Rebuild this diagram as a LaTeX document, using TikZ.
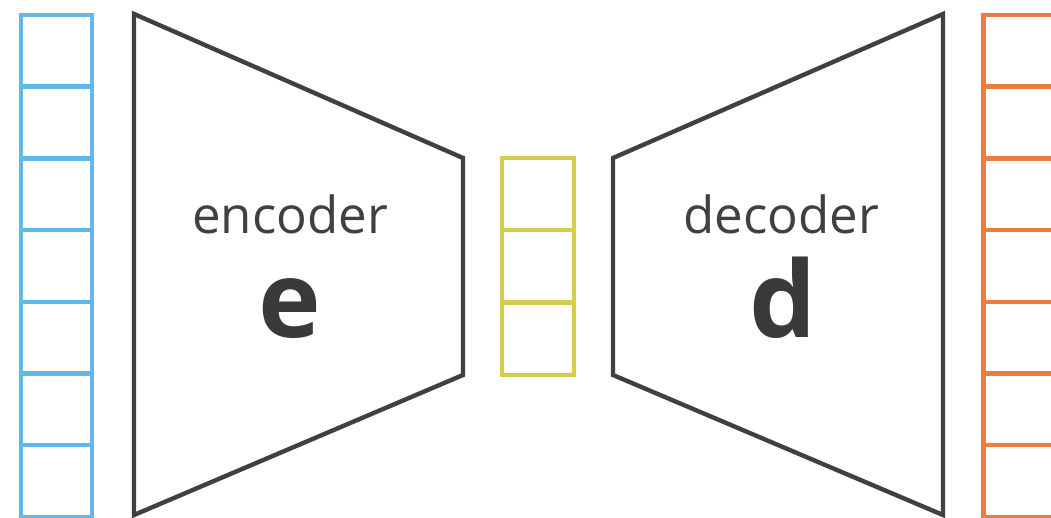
\documentclass[tikz,border=0pt]{standalone}
\usepackage{fontspec}
\setmainfont{Open Sans}
\definecolor{inblue}{HTML}{62B8E6}
\definecolor{codeyellow}{HTML}{D6CD4E}
\definecolor{outorange}{HTML}{EB7E3A}
\definecolor{netgray}{HTML}{404040}
\begin{document}
\begin{tikzpicture}[x=1pt,y=-1pt,
  cellbox/.style={draw=#1,line width=4.4pt,minimum width=71pt,minimum height=71.7pt,inner sep=0pt,outer sep=0pt},
  netshape/.style={draw=netgray,line width=4.4pt,line join=miter},
  netname/.style={text=netgray,font=\fontsize{51}{51}\selectfont,anchor=base,inner sep=0pt},
  netsym/.style={text=netgray!90!black,font=\bfseries\fontsize{106}{106}\selectfont,anchor=base,inner sep=0pt}]
\useasboundingbox (0,0) rectangle (1051,518);
\clip (0,0) rectangle (1051,518);
% input vector
\foreach \i in {0,...,6}
  \node[cellbox=inblue] (in\i) at (56.5,{15+71.7*\i+35.85}) {};
% encoder
\coordinate (e1) at (134,14);
\coordinate (e2) at (463,158);
\coordinate (e3) at (463,375);
\coordinate (e4) at (134,515);
\draw[netshape] (e1) -- (e2) -- (e3) -- (e4) -- cycle;
\node[netname] (enc) at (290,234) {encoder};
\node[netsym] (esym) at (290,337) {e};
% code vector
\foreach \i in {0,...,2}
  \node[cellbox=codeyellow,minimum width=72pt,minimum height=72.3pt] (code\i) at (538,{158+72.3*\i+36.15}) {};
% decoder
\coordinate (d1) at (613,158);
\coordinate (d2) at (943,14);
\coordinate (d3) at (943,515);
\coordinate (d4) at (613,375);
\draw[netshape] (d1) -- (d2) -- (d3) -- (d4) -- cycle;
\node[netname] (dec) at (781,234) {decoder};
\node[netsym] (dsym) at (783,337) {d};
% output vector
\foreach \i in {0,...,6}
  \node[cellbox=outorange] (out\i) at (1019,{15+71.7*\i+35.85}) {};
\end{tikzpicture}
\end{document}
